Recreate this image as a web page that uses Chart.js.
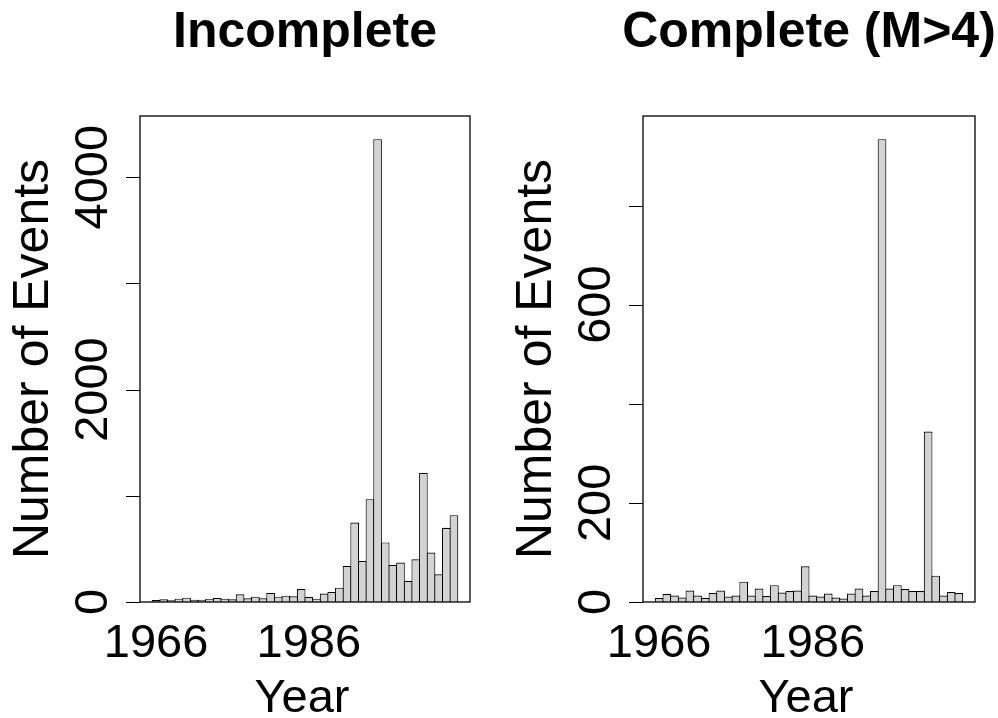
<!DOCTYPE html>
<html>
<head>
<meta charset="utf-8">
<script src="https://cdn.jsdelivr.net/npm/chart.js@4.4.1/dist/chart.umd.min.js"></script>
<style>
  html, body { margin: 0; padding: 0; background: #ffffff; }
  #wrap { position: relative; width: 998px; height: 718px; overflow: hidden; }
  canvas { position: absolute; top: 0; }
  #c1 { left: 0; }
  #c2 { left: 499px; }
</style>
</head>
<body>
<div id="wrap">
  <canvas id="c1" width="499" height="718"></canvas>
  <canvas id="c2" width="499" height="718"></canvas>
</div>
<script>
// ---- data ----
const years = [1966,1967,1968,1969,1970,1971,1972,1973,1974,1975,
               1976,1977,1978,1979,1980,1981,1982,1983,1984,1985,
               1986,1987,1988,1989,1990,1991,1992,1993,1994,1995,
               1996,1997,1998,1999,2000,2001,2002,2003,2004,2005];
const incompleteCounts = [19,25,16,31,41,22,22,31,38,31,
                          25,72,35,50,35,85,50,60,53,123,
                          47,31,79,94,135,340,748,387,968,4358,
                          560,349,371,198,402,1215,465,261,698,817];
const completeCounts = [8,16,13,9,23,13,8,18,23,11,
                        13,41,13,27,12,34,19,22,23,72,
                        13,11,17,9,7,17,27,13,22,934,
                        27,34,26,22,22,344,53,13,20,18];
const titles = ["Incomplete", "Complete (M>4)"];
const xTitle = "Year";
const yTitle = "Number of Events";
const xTickYears = [1966, 1986];
const yTicksLeft = [0,1000,2000,3000,4000];
const yLabelsLeft = [0,2000,4000];
const yTicksRight = [0,200,400,600,800];
const yLabelsRight = [0,200,600];

const FONT = '"Liberation Sans", Arial, Helvetica, sans-serif';

function panelPlugin(title, yTicks, yLabels) {
  return {
    id: 'rstyle',
    afterDraw(chart) {
      const ctx = chart.ctx;
      const a = chart.chartArea;
      const xs = chart.scales.x, ys = chart.scales.y;
      ctx.save();
      // plot box
      ctx.strokeStyle = '#000';
      ctx.lineWidth = 1.3;
      ctx.strokeRect(a.left, a.top, a.right - a.left, a.bottom - a.top);
      // y tick marks
      ctx.lineWidth = 1.2;
      ctx.beginPath();
      yTicks.forEach(v => {
        const py = Math.round(ys.getPixelForValue(v)) + 0.5;
        ctx.moveTo(a.left - 14, py);
        ctx.lineTo(a.left, py);
      });
      ctx.stroke();
      ctx.fillStyle = '#000';
      // y tick labels (rotated, R style)
      ctx.font = '47px ' + FONT;
      ctx.textAlign = 'center';
      ctx.textBaseline = 'alphabetic';
      yLabels.forEach(v => {
        const py = ys.getPixelForValue(v);
        ctx.save();
        ctx.translate(a.left - 33, py);
        ctx.rotate(-Math.PI / 2);
        ctx.fillText(String(v), 0, 0);
        ctx.restore();
      });
      // y axis title
      ctx.font = '50px ' + FONT;
      ctx.save();
      ctx.translate(a.left - 92, (a.top + a.bottom) / 2);
      ctx.rotate(-Math.PI / 2);
      ctx.fillText(yTitle, 0, 0);
      ctx.restore();
      // x tick labels
      ctx.font = '47px ' + FONT;
      xTickYears.forEach(yr => {
        ctx.fillText(String(yr), xs.getPixelForValue(yr), 657);
      });
      // x axis title
      ctx.font = '47px ' + FONT;
      ctx.fillText(xTitle, (a.left + a.right) / 2 - 3, 712);
      // main title
      ctx.font = 'bold 50px ' + FONT;
      ctx.fillText(title, (a.left + a.right) / 2, 47);
      ctx.restore();
    }
  };
}

function makeChart(id, counts, title, yTicks, yLabels, padLeft, padRight) {
  const maxVal = Math.max(...counts);
  const span = years.length * 0.04;
  const plotW = 499 - padLeft - padRight;
  const pxPerYear = plotW / (years.length * 1.08);
  new Chart(document.getElementById(id), {
    type: 'bar',
    data: {
      datasets: [{
        data: years.map((yr, i) => ({ x: yr, y: counts[i] })),
        backgroundColor: '#d3d3d3',
        borderColor: '#000000',
        borderWidth: 1.1,
        borderSkipped: 'start',
        barPercentage: 1 + 1 / pxPerYear,
        categoryPercentage: 1
      }]
    },
    options: {
      responsive: false,
      animation: false,
      events: [],
      layout: { padding: { left: padLeft, right: padRight, top: 116, bottom: 116 } },
      plugins: { legend: { display: false }, tooltip: { enabled: false }, title: { display: false } },
      scales: {
        x: {
          type: 'linear',
          display: false,
          offset: false,
          min: years[0] - 0.5 - span,
          max: years[years.length - 1] + 0.5 + span
        },
        y: {
          type: 'linear',
          display: false,
          min: 0,
          max: maxVal * 1.05
        }
      }
    },
    plugins: [panelPlugin(title, yTicks, yLabels)]
  });
}

makeChart('c1', incompleteCounts, titles[0], yTicksLeft, yLabelsLeft, 140, 29);
makeChart('c2', completeCounts, titles[1], yTicksRight, yLabelsRight, 144, 23);
</script>
</body>
</html>
